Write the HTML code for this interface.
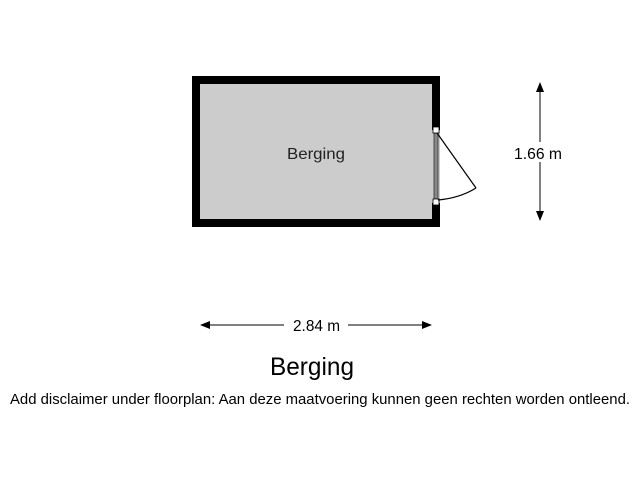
<!DOCTYPE html>
<html><head><style>
html,body{margin:0;padding:0;background:#fff;width:640px;height:480px;overflow:hidden}
</style></head><body>
<svg width="640" height="480" xmlns="http://www.w3.org/2000/svg" font-family="Liberation Sans, sans-serif">
<rect x="192" y="76" width="248" height="151" fill="#000"/>
<rect x="200" y="84" width="232" height="135" fill="#cccccc"/>
<rect x="432" y="130" width="8" height="73" fill="#cccccc"/>
<rect x="434" y="133" width="4" height="66" fill="#888" stroke="#333" stroke-width="0.8"/>
<rect x="433" y="127" width="6" height="6" fill="#fff" stroke="#000" stroke-width="0.8"/>
<rect x="433" y="199" width="6" height="6" fill="#fff" stroke="#000" stroke-width="0.8"/>
<line x1="437" y1="133" x2="476" y2="188" stroke="#000" stroke-width="1.2"/>
<path d="M476 188 Q460 198 438 200" fill="none" stroke="#000" stroke-width="1.2"/>
<text x="287" y="159" font-size="16" textLength="58" lengthAdjust="spacingAndGlyphs" fill="#222">Berging</text>
<line x1="540" y1="86" x2="540" y2="217" stroke="#000" stroke-width="1"/>
<polygon points="540,82 536,92 544,92" fill="#000"/>
<polygon points="540,221 536,211 544,211" fill="#000"/>
<rect x="510" y="142" width="60" height="20" fill="#fff"/>
<text x="514" y="159" font-size="16" textLength="48" lengthAdjust="spacingAndGlyphs">1.66 m</text>
<line x1="204" y1="325" x2="428" y2="325" stroke="#000" stroke-width="1"/>
<polygon points="200,325 210,321 210,329" fill="#000"/>
<polygon points="432,325 422,321 422,329" fill="#000"/>
<rect x="284" y="314" width="64" height="22" fill="#fff"/>
<text x="293" y="331" font-size="16" textLength="47" lengthAdjust="spacingAndGlyphs">2.84 m</text>
<text x="270" y="375" font-size="25" textLength="84" lengthAdjust="spacingAndGlyphs">Berging</text>
<text x="10" y="404" font-size="15" textLength="620" lengthAdjust="spacingAndGlyphs">Add disclaimer under floorplan: Aan deze maatvoering kunnen geen rechten worden ontleend.</text>
</svg>
</body></html>
